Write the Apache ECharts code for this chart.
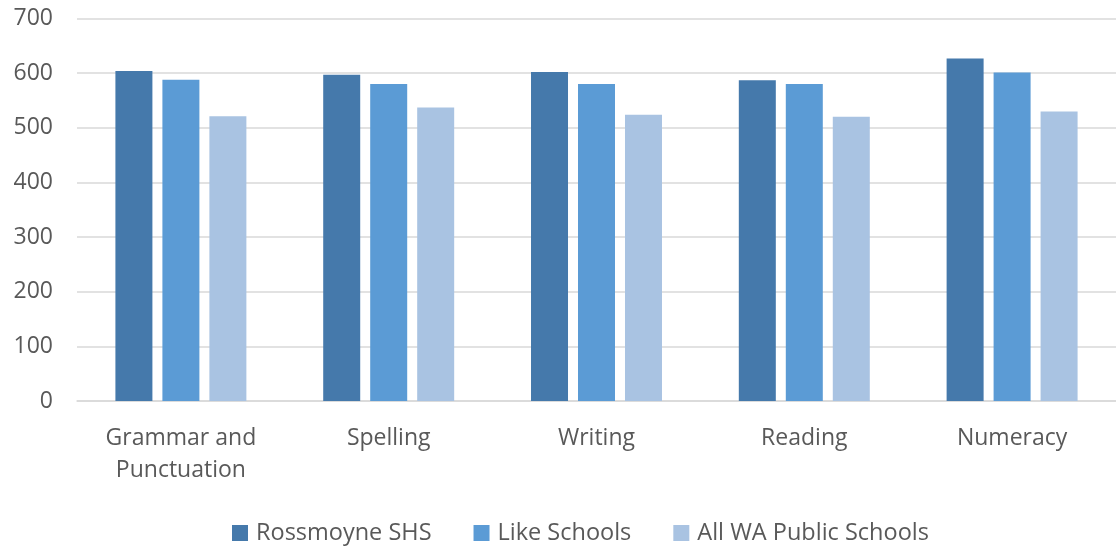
<!DOCTYPE html>
<html><head><meta charset="utf-8">
<script src="https://cdn.jsdelivr.net/npm/echarts@6/dist/echarts.min.js"></script>
<style>html,body{margin:0;padding:0;background:#fff}#c{width:1116px;height:547px}</style>
</head><body><div id="c"></div>
<script>
const categories = ['Grammar and\nPunctuation', 'Spelling', 'Writing', 'Reading', 'Numeracy'];
const seriesNames = ['Rossmoyne SHS', 'Like Schools', 'All WA Public Schools'];
const rossmoyne = [604, 597, 602, 587, 627];
const likeSchools = [588, 580, 580, 580, 601];
const allWA = [521, 537, 524, 520, 530];
const colors = ['#4579ab', '#5b9bd5', '#a9c3e2'];
const FONT = '"Open Sans", sans-serif';
const chart = echarts.init(document.getElementById('c'));
const data = [rossmoyne, likeSchools, allWA];
chart.setOption({
  animation: false,
  color: colors,
  grid: {left: 77, right: 0, top: 18.5, bottom: 146, containLabel: false},
  legend: {
    top: 516, left: 227, itemWidth: 16, itemHeight: 16, itemGap: 42,
    icon: 'rect',
    textStyle: {color: '#595959', fontSize: 23.5, fontFamily: FONT, padding: [0, 0, 0, 3]},
    data: seriesNames
  },
  xAxis: {
    type: 'category', data: categories,
    axisLine: {lineStyle: {color: '#d9d9d9', width: 1.5}},
    axisTick: {show: false},
    axisLabel: {color: '#595959', fontSize: 23, fontFamily: FONT, margin: 21, lineHeight: 32, interval: 0}
  },
  yAxis: {
    type: 'value', min: 0, max: 700, interval: 100,
    axisLine: {show: false}, axisTick: {show: false},
    splitLine: {lineStyle: {color: '#d9d9d9', width: 1.5}},
    axisLabel: {color: '#595959', fontSize: 23, fontFamily: FONT, margin: 24}
  },
  series: seriesNames.map((n, i) => ({
    name: n, type: 'bar', data: data[i], barWidth: 37, barGap: '27%',
    itemStyle: {color: colors[i]}
  }))
});
</script></body></html>
